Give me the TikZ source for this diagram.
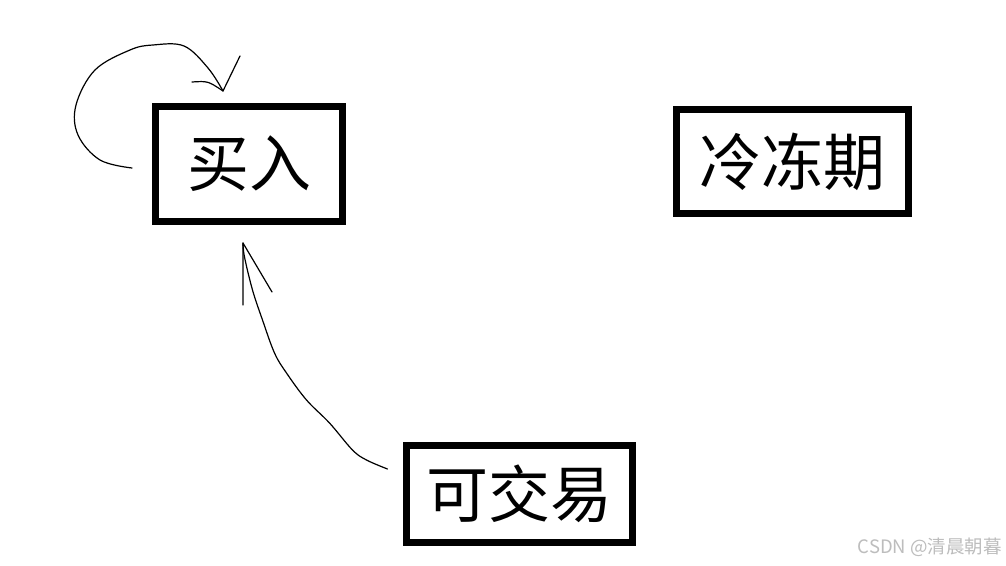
\documentclass[tikz,border=0pt]{standalone}
\usepackage{fontspec}
\usepackage{tikz}
\usetikzlibrary{calc}
\newfontfamily\cjk{Noto Sans CJK SC}
\definecolor{Ink}{HTML}{000000}
\definecolor{Mark}{HTML}{BDBDBD}

\begin{document}
\begin{tikzpicture}[x=1pt,y=1pt]
\tikzset{statebox/.style={draw=Ink,line width=7pt,inner sep=0pt,fill=white,font=\cjk\fontsize{62}{62}\selectfont,text=Ink}, pen/.style={line width=1.2pt,Ink,line cap=round,line join=round}}
\fill[white] (0,0) rectangle (1006,565);
\useasboundingbox (0,0) rectangle (1006,565);
\node[statebox,minimum width=187pt,minimum height=115pt] (buy) at (249,401) {买入};
\node[statebox,minimum width=232pt,minimum height=104pt] (freeze) at (792,403.5) {冷冻期};
\node[statebox,minimum width=226pt,minimum height=97pt] (trade) at (519,71) {可交易};
% hand drawn loop on buy
\coordinate (loopin) at ([xshift=-20pt,yshift=-4pt]buy.west);
\coordinate (looptip) at ([xshift=-26pt,yshift=12pt]buy.north);
\draw[pen] plot[smooth,tension=0.6] coordinates {(loopin) ($(loopin)+(-32,8)$) ($(loopin)+(-54,33)$) ($(loopin)+(-56,63)$) ($(loopin)+(-37,98)$) ($(loopin)+(-2,118)$) ($(loopin)+(21,123)$) ($(loopin)+(52,122)$) ($(loopin)+(76,100)$) (looptip)};
\draw[pen] ($(looptip)+(-31,9)$) .. controls ($(looptip)+(-15,10)$) .. (looptip) -- ($(looptip)+(17,35)$);
% hand drawn arrow from trade to buy
\coordinate (tradeout) at ([xshift=-15pt,yshift=25pt]trade.west);
\coordinate (buyin) at ([xshift=-6pt,yshift=-18pt]buy.south);
\draw[pen] plot[smooth,tension=0.6] coordinates {(tradeout) ($(tradeout)+(-21,9)$) ($(tradeout)+(-35,19)$) ($(tradeout)+(-58,46)$) ($(tradeout)+(-81,69)$) ($(tradeout)+(-101,96)$) ($(tradeout)+(-113,116)$) ($(tradeout)+(-125,149)$) ($(tradeout)+(-135,179)$) ($(tradeout)+(-143,212)$) (buyin)};
\draw[pen] ($(buyin)+(0,-62)$) -- (buyin) -- ($(buyin)+(29,-49)$);
\node[anchor=east,font=\cjk\fontsize{18.5}{18.5}\selectfont,text=Mark,inner sep=0pt] (mark) at (1002,18) {CSDN @清晨朝暮};
\end{tikzpicture}
\end{document}
